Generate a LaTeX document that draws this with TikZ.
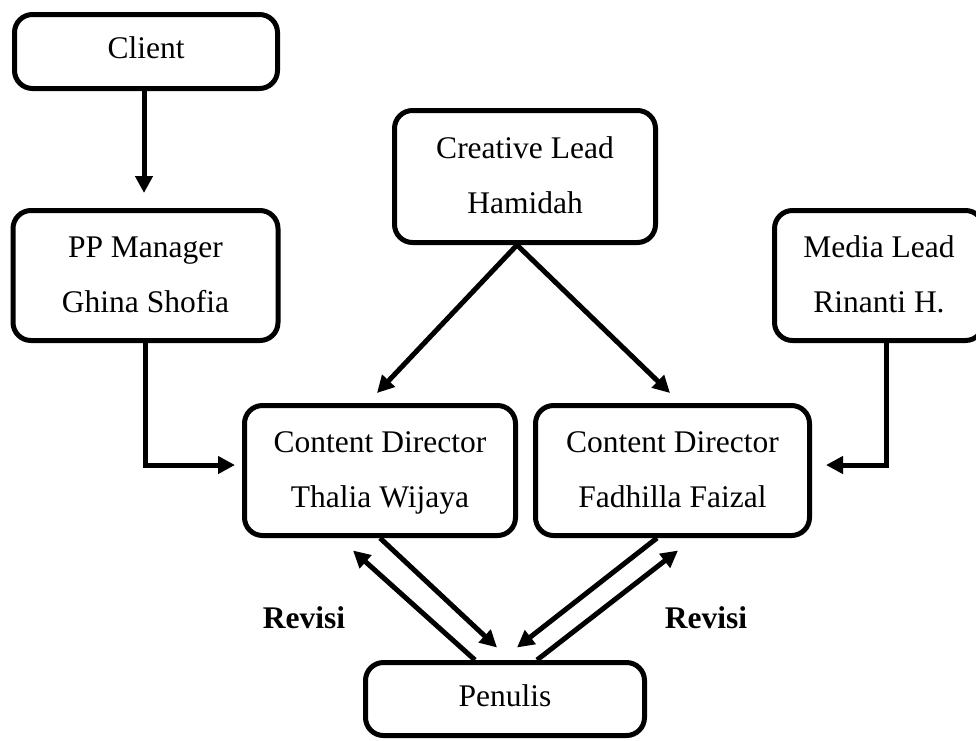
\documentclass[tikz,border=0pt]{standalone}
\usepackage{fontspec}
\setmainfont{Liberation Serif}
\usetikzlibrary{arrows.meta}
\newcommand\toprl{\rule{0pt}{26.7pt}}
\newcommand\botrl{\rule[-6.8pt]{0pt}{6.8pt}}
\begin{document}
\begin{tikzpicture}[x=1pt,y=-1pt,
  box/.style={draw, line width=5pt, rounded corners=18pt, align=center, inner sep=0pt,
    font=\fontsize{31.5}{55}\selectfont},
  one/.style={text height=21.5pt, text depth=6.8pt},
  arr/.style={line width=5pt, -{Triangle[length=17pt,width=17pt]}},
  lbl/.style={font=\fontsize{31.5}{38}\selectfont\bfseries, anchor=base, inner sep=0pt}]
\useasboundingbox (0,0) rectangle (976,740);
\node[box,one,minimum width=263pt,minimum height=74pt] (client) at (146,51.5) {Client};
\node[box,minimum width=265pt,minimum height=130pt] (pp) at (145.5,275.5) {\toprl PP Manager\\Ghina Shofia\botrl};
\node[box,minimum width=261pt,minimum height=132pt] (creative) at (525,176.5) {\toprl Creative Lead\\Hamidah\botrl};
\node[box,minimum width=209pt,minimum height=130pt] (media) at (879,275.5) {\toprl Media Lead\\Rinanti H.\botrl};
\node[box,minimum width=271pt,minimum height=130pt] (thalia) at (380,470.5) {\toprl Content Director\\Thalia Wijaya\botrl};
\node[box,minimum width=274pt,minimum height=130pt] (fadhilla) at (672.5,470.5) {\toprl Content Director\\Fadhilla Faizal\botrl};
\node[box,one,minimum width=279pt,minimum height=73pt] (penulis) at (505,699) {Penulis};
\node[lbl] (rev1) at (304,628) {Revisi};
\node[lbl] (rev2) at (706,628) {Revisi};
% connectors
\draw[arr,shorten >=15pt] ([xshift=-2pt]client.south) -- ([xshift=-1.5pt]pp.north);
\draw[arr] (pp.south) |- ([xshift=-7pt,yshift=5.5pt]thalia.west);
\draw[arr] ([xshift=7pt]media.south) |- ([xshift=14pt,yshift=5.5pt]fadhilla.east);
\draw[arr] ([xshift=-8pt]creative.south) -- ([xshift=-3pt,yshift=10pt]thalia.north);
\draw[arr] ([xshift=-8pt]creative.south) -- ([xshift=-2.5pt,yshift=10pt]fadhilla.north);
\draw[arr] ([xshift=-30pt]penulis.north) -- ([xshift=-27pt,yshift=-12.5pt]thalia.south);
\draw[arr] (thalia.south) -- ([xshift=-8pt,yshift=12.5pt]penulis.north);
\draw[arr] ([xshift=-15.5pt]fadhilla.south) -- ([xshift=12pt,yshift=12.5pt]penulis.north);
\draw[arr] ([xshift=32pt]penulis.north) -- ([xshift=5.5pt,yshift=-12.5pt]fadhilla.south);
\end{tikzpicture}
\end{document}
